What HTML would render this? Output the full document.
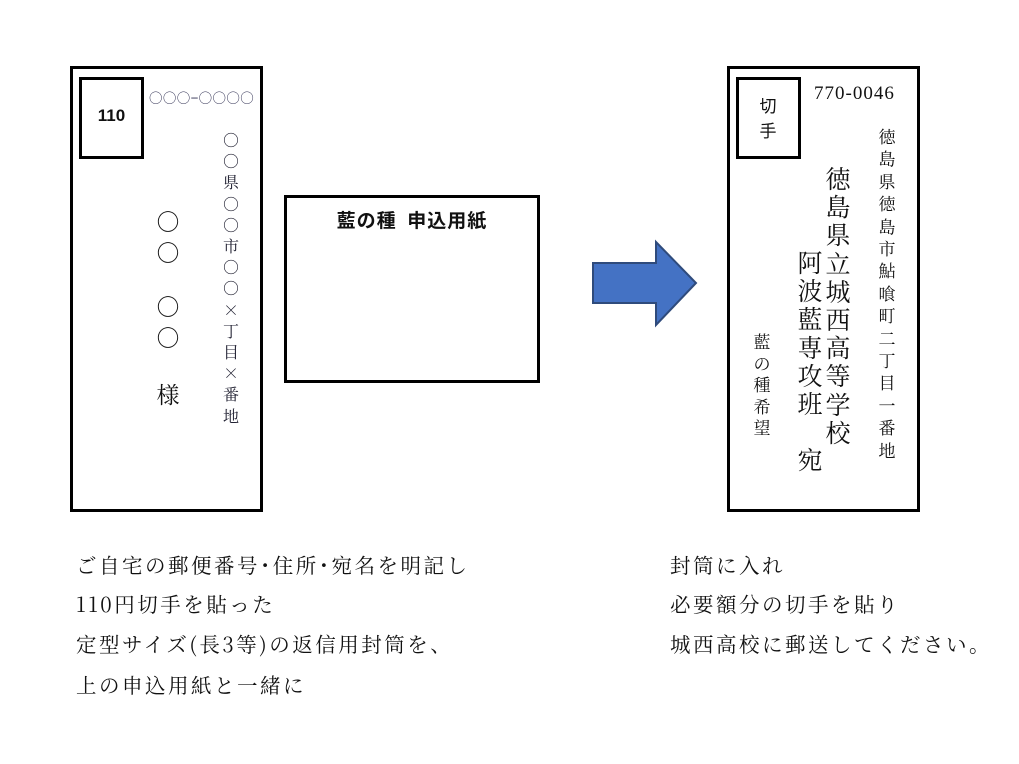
<!DOCTYPE html>
<html><head><meta charset="utf-8"><style>
body{margin:0;width:1019px;height:764px;background:#fff;position:relative;overflow:hidden;font-family:"Noto Serif CJK SC","Liberation Serif",serif;color:#111}
.a{position:absolute}
.box{position:absolute;border:3px solid #000;box-sizing:border-box}
.col{position:absolute;text-align:center;white-space:pre;}
.t{position:absolute;font-size:20.5px;letter-spacing:2.5px;white-space:nowrap;line-height:24px}
.g{font-family:"Noto Sans CJK JP",sans-serif}
</style></head><body>
<!-- left envelope -->
<div class="box" style="left:70px;top:66px;width:193px;height:446px"></div>
<div class="box" style="left:79px;top:77px;width:65px;height:82px"></div>
<div class="a" style="left:79px;top:106px;width:65px;text-align:center;font:bold 17px 'Liberation Sans',sans-serif">110</div>
<div class="a" style="left:149px;top:88px;font:13.5px 'Noto Sans CJK JP',sans-serif;color:#335;line-height:18px;letter-spacing:0.4px">○○○−○○○○</div>
<div class="col" style="left:220px;top:129px;width:22px;font-size:16px;line-height:21.2px;color:#223">○<br>○<br>県<br>○<br>○<br>市<br>○<br>○<br>×<br>丁<br>目<br>×<br>番<br>地</div>
<div class="col" style="left:153px;top:205px;width:30px;font-size:23px;line-height:31px">○<br>○</div>
<div class="col" style="left:153px;top:290px;width:30px;font-size:23px;line-height:31px">○<br>○</div>
<div class="col" style="left:153px;top:378px;width:30px;font-size:23px;line-height:31px">様</div>
<!-- middle box -->
<div class="box" style="left:284px;top:195px;width:256px;height:188px"></div>
<div class="a g" style="left:284px;top:206px;width:256px;text-align:center;font-weight:bold;font-size:19px;letter-spacing:1px">藍の種&nbsp;&nbsp;申込用紙</div>
<!-- arrow -->
<svg class="a" style="left:590px;top:238px" width="110" height="92"><polygon points="3,25 66,25 66,4 106,45 66,87 66,65 3,65" fill="#4472C4" stroke="#2F4B7C" stroke-width="2"/></svg>
<!-- right envelope -->
<div class="box" style="left:727px;top:66px;width:193px;height:446px"></div>
<div class="box" style="left:736px;top:77px;width:65px;height:82px"></div>
<div class="col g" style="left:756px;top:92px;width:24px;font-size:17px;line-height:25px">切<br>手</div>
<div class="a" style="left:814px;top:83px;font:19px 'Liberation Serif',serif;letter-spacing:1px">770-0046</div>
<div class="col" style="left:876px;top:125px;width:22px;font-size:17px;line-height:22.4px">徳<br>島<br>県<br>徳<br>島<br>市<br>鮎<br>喰<br>町<br>二<br>丁<br>目<br>一<br>番<br>地</div>
<div class="col" style="left:823px;top:164px;width:30px;font-size:25px;line-height:28.2px">徳<br>島<br>県<br>立<br>城<br>西<br>高<br>等<br>学<br>校</div>
<div class="col" style="left:795px;top:248px;width:30px;font-size:25px;line-height:28.2px">阿<br>波<br>藍<br>専<br>攻<br>班</div>
<div class="col" style="left:795px;top:445px;width:30px;font-size:25px;line-height:28px">宛</div>
<div class="col" style="left:750px;top:330px;width:24px;font-size:17px;line-height:21.5px">藍<br>の<br>種<br>希<br>望</div>
<!-- bottom text -->
<div class="t" style="left:76px;top:552px">ご自宅の郵便番号･住所･宛名を明記し</div>
<div class="t" style="left:76px;top:591px">110円切手を貼った</div>
<div class="t" style="left:76px;top:631px">定型サイズ(長3等)の返信用封筒を、</div>
<div class="t" style="left:76px;top:672px">上の申込用紙と一緒に</div>
<div class="t" style="left:670px;top:552px">封筒に入れ</div>
<div class="t" style="left:670px;top:591px">必要額分の切手を貼り</div>
<div class="t" style="left:670px;top:631px">城西高校に郵送してください。</div>
</body></html>
